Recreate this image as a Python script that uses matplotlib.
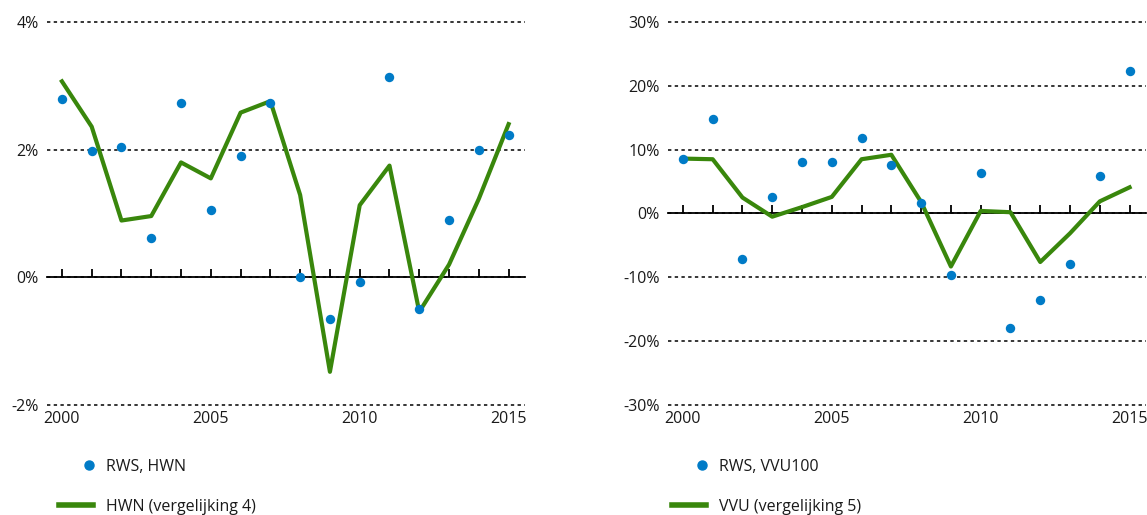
import numpy as np
import matplotlib
matplotlib.use("Agg")
import matplotlib.pyplot as plt
from matplotlib.lines import Line2D
from matplotlib.legend_handler import HandlerLine2DCompound

plt.rcParams['font.family'] = ['Open Sans', 'DejaVu Sans']
plt.rcParams['font.size'] = 11.5

years = np.arange(2000, 2016)

# HWN: measured (RWS) and model (vergelijking 4), in %
hwn_rws = [2.80, 1.98, 2.04, 0.62, 2.73, 1.05, 1.90, 2.73,
           0.00, -0.66, -0.08, 3.14, -0.49, 0.90, 1.99, 2.23]
hwn_model = [3.07, 2.36, 0.89, 0.96, 1.80, 1.55, 2.58, 2.76,
             1.29, -1.48, 1.13, 1.75, -0.54, 0.20, 1.23, 2.40]

# VVU: measured (RWS, VVU100) and model (vergelijking 5), in %
vvu_rws = [8.6, 14.8, -7.2, 2.6, 8.1, 8.0, 11.8, 7.6,
           1.6, -9.6, 6.3, -18.0, -13.5, -7.9, 5.9, 22.4]
vvu_model = [8.6, 8.5, 2.5, -0.5, 1.0, 2.6, 8.5, 9.2,
             1.8, -8.3, 0.4, 0.2, -7.6, -3.1, 1.9, 4.1]

hwn_ticks = [-2, 0, 2, 4]
vvu_ticks = [-30, -20, -10, 0, 10, 20, 30]
year_labels = [2000, 2005, 2010, 2015]

green = "#39870c"
blue = "#007bc7"


class RightDot(HandlerLine2DCompound):
    # puts the single legend marker near the right end of the handle box
    def get_xdata(self, legend, xdescent, ydescent, width, height, fontsize):
        xdata = np.linspace(-xdescent, -xdescent + width, 2)
        return xdata, np.array([-xdescent + 0.88 * width])


def style_axes(ax, yticks, ylim):
    ax.set_xlim(1999.5, 2015.55)
    ax.set_ylim(*ylim)
    for s in ["top", "right", "left"]:
        ax.spines[s].set_visible(False)
    # zero line with small upward year ticks
    ax.spines["bottom"].set_position(("data", 0))
    ax.spines["bottom"].set_linewidth(1.3)
    ax.set_xticks(years)
    ax.tick_params(axis="x", direction="in", length=6, width=1.3, labelbottom=False)
    ax.set_yticks(yticks)
    ax.set_yticklabels([f"{t}%" for t in yticks])
    ax.tick_params(axis="y", length=0, pad=6, labelcolor="#1a1a1a")
    ax.yaxis.grid(True, color="black", linestyle=(0, (2.2, 2.2)), linewidth=1.1)
    for gl in ax.get_ygridlines():
        gl.set_clip_on(False)
    ax.set_axisbelow(True)
    sec = ax.secondary_xaxis("bottom")
    sec.set_xticks(year_labels)
    sec.set_xticklabels([str(y) for y in year_labels])
    sec.tick_params(length=0, pad=4, labelcolor="#1a1a1a")
    sec.spines["bottom"].set_visible(False)


fig = plt.figure(figsize=(11.47, 5.15), dpi=100)
ax1 = fig.add_axes([0.041, 0.2136, 0.4167, 0.7437])
ax2 = fig.add_axes([0.5824, 0.2136, 0.4167, 0.7437])

panels = [
    (ax1, hwn_rws, hwn_model, hwn_ticks, (-2, 4), "RWS, HWN", "HWN (vergelijking 4)", 0.0514),
    (ax2, vvu_rws, vvu_model, vvu_ticks, (-30, 30), "RWS, VVU100", "VVU (vergelijking 5)", 0.586),
]

for ax, rws, model, yt, yl, lab_rws, lab_model, lx in panels:
    style_axes(ax, yt, yl)
    ax.plot(years, model, color=green, linewidth=3.0, zorder=3, clip_on=False)
    ax.scatter(years, rws, s=46, color=blue, zorder=4, clip_on=False, linewidths=0)

    dot = Line2D([], [], marker="o", linestyle="none", color=blue, markersize=6.5)
    line = Line2D([], [], color=green, linewidth=4.0)
    fig.legend([dot, line], [lab_rws, lab_model], loc="center left",
               bbox_to_anchor=(lx, 0.055), frameon=False, borderpad=0,
               borderaxespad=0, handlelength=2.15, handletextpad=0.8,
               labelspacing=1.5, numpoints=1,
               handler_map={dot: RightDot()}, labelcolor="#1a1a1a")

fig.savefig("out.png", dpi=100)
